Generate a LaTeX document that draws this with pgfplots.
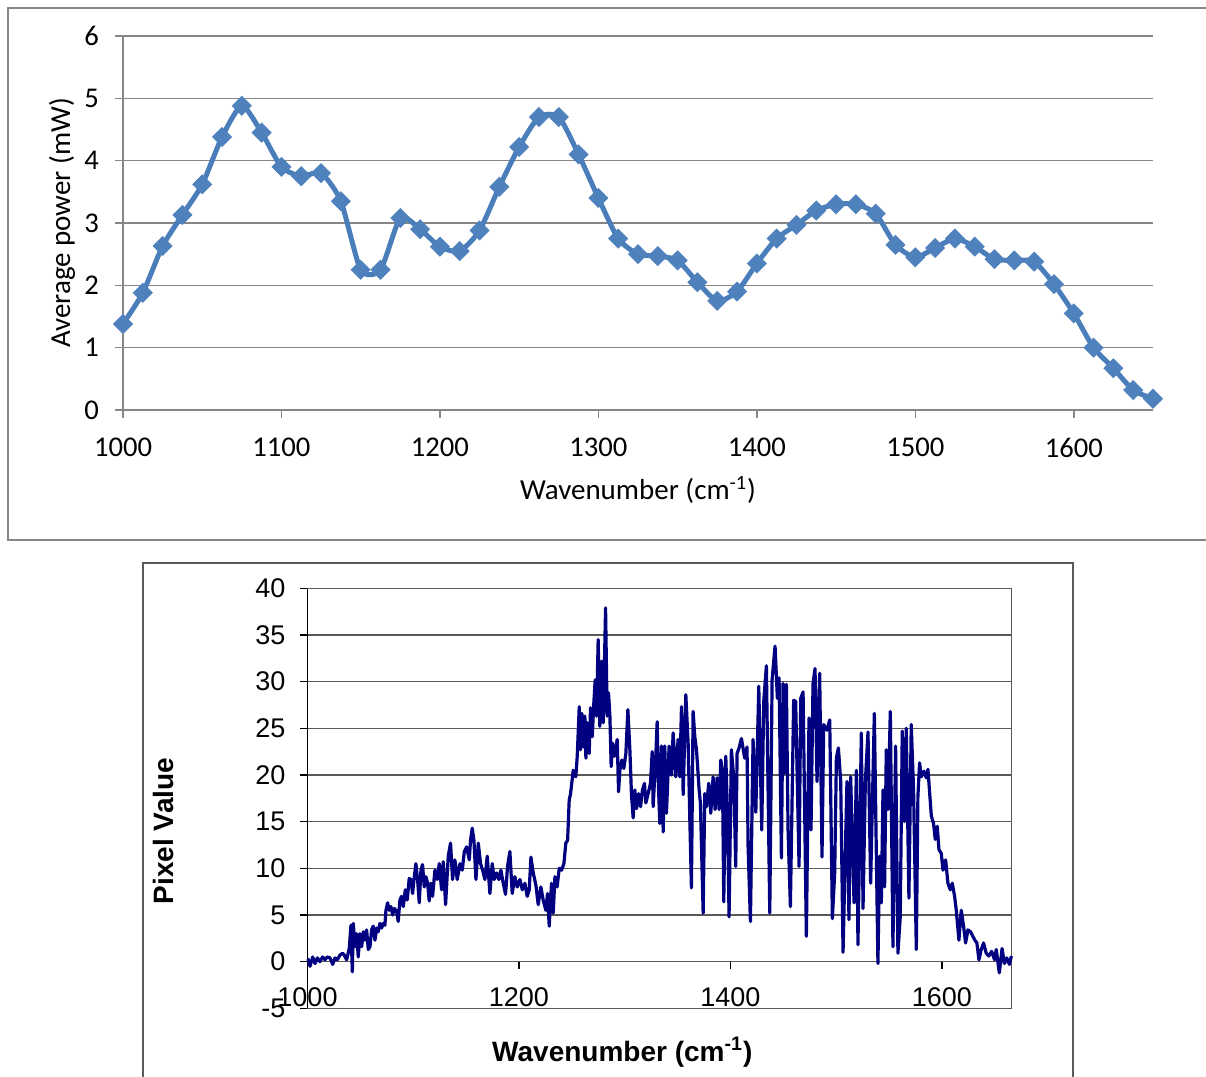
\documentclass[border=0pt]{standalone}
\usepackage{pgfplots}
\pgfplotsset{compat=1.18}
\usepackage{fontspec}
\setmainfont{Carlito}
\newfontfamily\carlito{Carlito}
\newfontfamily\arialf{Liberation Sans}
\definecolor{topblue}{HTML}{4A7EBB}
\definecolor{markblue}{HTML}{4F81BD}
\definecolor{navyline}{HTML}{000080}
\definecolor{gridg}{HTML}{868686}
\definecolor{gridb}{HTML}{5A5A5A}

\pgfplotstableread{
x y
1000 1.38
1012.5 1.88
1025 2.63
1037.5 3.13
1050 3.62
1062.5 4.38
1075 4.88
1087.5 4.45
1100 3.90
1112.5 3.75
1125 3.80
1137.5 3.35
1150 2.25
1162.5 2.25
1175 3.08
1187.5 2.90
1200 2.62
1212.5 2.55
1225 2.88
1237.5 3.58
1250 4.22
1262.5 4.70
1275 4.70
1287.5 4.10
1300 3.40
1312.5 2.75
1325 2.50
1337.5 2.47
1350 2.40
1362.5 2.05
1375 1.75
1387.5 1.90
1400 2.35
1412.5 2.75
1425 2.97
1437.5 3.20
1450 3.30
1462.5 3.30
1475 3.15
1487.5 2.65
1500 2.45
1512.5 2.60
1525 2.75
1537.5 2.62
1550 2.42
1562.5 2.40
1575 2.38
1587.5 2.02
1600 1.55
1612.5 1.00
1625 0.67
1637.5 0.32
1650 0.18
}\powertable

\pgfplotstableread{
x y
1000.0 0.3
1000.8 0.2
1002.4 -0.5
1004.9 0.5
1007.1 -0.2
1009.3 0.4
1011.8 0.0
1014.3 0.5
1016.5 0.2
1018.7 0.5
1021.3 0.4
1023.8 -0.3
1026.0 0.4
1028.2 0.2
1030.7 0.7
1033.2 0.9
1034.8 0.7
1037.0 0.2
1039.5 1.4
1041.1 3.9
1042.4 -1.1
1043.3 4.1
1044.9 1.6
1046.5 3.0
1048.0 0.5
1049.6 3.0
1051.2 1.6
1052.8 3.2
1054.3 2.3
1055.9 3.4
1057.5 1.3
1059.1 1.6
1060.6 3.4
1062.2 3.8
1063.8 2.3
1065.4 3.6
1066.9 3.2
1068.5 4.1
1070.1 3.6
1071.7 4.1
1073.2 3.9
1074.2 5.5
1075.8 6.3
1077.3 5.5
1078.9 5.9
1080.5 5.0
1082.1 5.7
1084.3 5.4
1085.8 4.3
1087.4 6.6
1088.9 7.0
1090.6 5.9
1092.5 7.7
1094.3 6.6
1096.2 8.9
1097.8 8.8
1099.4 7.3
1101.0 9.1
1102.5 10.5
1104.1 8.8
1105.7 6.3
1107.3 9.8
1108.8 10.4
1110.4 8.0
1112.0 9.1
1113.6 8.4
1115.1 6.5
1116.7 8.4
1118.3 7.0
1120.5 9.8
1122.7 8.8
1124.6 10.5
1126.8 7.7
1128.4 10.7
1130.6 6.1
1133.1 11.3
1135.3 12.7
1137.2 8.8
1139.4 10.9
1141.6 8.8
1144.2 10.5
1146.4 9.8
1148.3 11.8
1150.5 12.3
1153.0 10.9
1154.2 13.0
1155.8 14.3
1157.4 13.0
1159.3 8.8
1161.5 12.7
1163.7 10.5
1165.6 9.8
1167.8 8.8
1170.0 11.3
1172.5 7.3
1174.7 10.5
1176.6 8.8
1178.8 9.5
1181.0 8.8
1182.9 9.8
1185.1 8.4
1187.3 7.2
1189.2 10.2
1191.4 11.8
1193.6 7.3
1196.1 9.1
1198.3 8.0
1200.9 8.8
1203.1 7.7
1205.6 8.4
1207.8 7.0
1209.7 7.7
1211.3 11.2
1213.5 9.5
1216.0 8.2
1218.2 6.1
1220.7 8.0
1222.9 6.6
1225.4 5.5
1227.0 7.3
1228.6 3.8
1230.8 8.4
1232.4 5.2
1234.0 9.1
1236.1 8.0
1238.1 10.0
1240.3 9.8
1242.5 10.5
1244.3 12.7
1246.0 13.0
1247.5 17.3
1248.8 18.0
1251.3 20.5
1253.8 19.8
1255.1 22.0
1257.0 27.3
1258.2 22.7
1259.5 26.6
1260.8 23.0
1262.3 26.3
1263.3 21.8
1264.5 25.6
1266.4 22.3
1267.7 27.2
1269.3 24.1
1270.8 27.7
1272.1 30.2
1273.4 26.3
1274.9 34.5
1276.5 25.2
1278.1 32.2
1279.7 25.6
1281.9 37.9
1283.4 26.3
1284.7 28.8
1286.0 26.3
1287.2 20.9
1288.5 23.4
1290.4 22.0
1292.9 23.8
1294.2 18.2
1295.4 20.5
1297.3 21.6
1299.2 20.7
1301.1 22.3
1303.0 27.0
1304.9 22.7
1306.4 17.9
1308.0 15.4
1309.6 18.4
1311.2 16.4
1313.1 18.0
1315.0 16.6
1316.8 18.4
1318.7 19.1
1320.0 17.0
1322.2 18.0
1324.4 19.1
1326.0 22.5
1326.9 16.6
1329.4 22.0
1330.7 25.7
1331.9 18.8
1333.2 14.8
1334.8 23.1
1336.4 13.9
1337.9 23.1
1339.5 15.9
1342.0 23.1
1344.2 20.0
1345.8 24.5
1348.3 19.8
1350.5 23.8
1352.1 19.8
1353.7 27.3
1355.3 17.9
1357.8 28.6
1360.0 23.4
1361.6 15.2
1363.1 7.9
1364.7 26.8
1366.3 24.1
1367.9 22.7
1370.4 18.4
1371.6 17.0
1374.2 5.2
1375.7 18.0
1377.3 16.6
1379.5 19.1
1381.4 15.9
1383.6 19.8
1385.5 16.3
1387.4 19.7
1389.3 16.3
1390.9 21.6
1392.4 20.6
1393.7 6.4
1395.6 22.0
1397.2 15.9
1398.7 4.8
1400.9 22.7
1403.1 19.8
1405.0 10.2
1406.3 22.3
1408.2 22.9
1410.4 23.9
1413.5 21.8
1415.7 23.0
1416.7 12.3
1418.9 4.3
1421.4 23.8
1424.0 16.0
1426.8 29.5
1429.6 14.1
1431.5 27.9
1434.0 31.7
1437.2 5.2
1439.4 30.2
1442.2 33.8
1444.4 28.2
1446.0 30.4
1448.2 11.1
1449.8 29.8
1451.3 20.2
1452.9 29.7
1454.5 14.1
1456.7 5.9
1459.8 28.0
1461.7 27.9
1464.9 10.2
1466.5 28.2
1468.7 28.9
1471.8 2.7
1474.3 26.1
1476.2 14.1
1478.1 29.8
1480.0 31.4
1481.9 19.3
1484.4 30.9
1486.6 11.2
1488.2 25.4
1491.3 24.8
1493.9 25.9
1496.4 4.6
1498.6 9.5
1500.2 21.8
1502.1 22.9
1504.3 19.3
1506.5 1.0
1510.2 19.3
1512.1 4.5
1513.7 19.8
1516.9 6.3
1519.1 20.5
1520.6 1.8
1523.8 24.5
1525.4 5.7
1527.6 19.3
1530.1 24.6
1532.6 8.4
1536.1 26.6
1537.9 12.3
1539.5 -0.2
1541.1 11.3
1542.7 6.3
1544.3 18.4
1545.8 8.0
1547.4 22.7
1549.0 16.3
1551.2 26.8
1553.7 1.6
1556.2 23.1
1558.4 0.9
1560.6 4.8
1562.5 24.7
1564.4 15.0
1566.3 25.0
1568.8 6.8
1571.0 25.4
1573.2 18.4
1575.8 1.3
1577.3 17.7
1578.9 21.3
1580.5 19.8
1583.0 20.4
1585.2 19.7
1586.8 20.6
1588.4 18.1
1590.0 15.6
1592.1 14.8
1593.7 13.1
1595.6 14.5
1597.2 12.0
1599.4 11.6
1601.0 9.8
1603.5 10.9
1605.7 8.4
1607.9 7.7
1609.8 8.4
1612.0 7.0
1613.6 5.5
1616.1 2.3
1618.3 5.5
1620.5 3.8
1622.4 2.0
1624.6 3.4
1627.1 3.2
1629.3 2.7
1631.2 2.3
1633.1 2.0
1635.0 0.2
1637.2 1.3
1639.4 2.0
1641.9 0.9
1644.4 0.6
1647.0 1.1
1649.8 0.2
1651.4 1.3
1654.3 -1.2
1656.9 1.4
1659.1 -0.2
1661.3 0.4
1663.9 -0.3
1665.7 0.6
}\pixeltable

\begin{document}
\begin{tikzpicture}
\useasboundingbox (0,0) rectangle (603pt,538.5pt);
\draw[gridg, line width=0.8pt] (4pt,268.5pt) rectangle (615pt,534.5pt);
\draw[gridb, line width=0.6pt] (71.5pt,-10pt) rectangle (536.5pt,257pt);

\begin{axis}[
  at={(61.5pt,333.5pt)}, anchor=south west,
  scale only axis, width=515pt, height=187pt,
  xmin=1000, xmax=1650, ymin=0, ymax=6,
  xtick={1000,1100,...,1600}, ytick={0,1,...,6},
  axis x line*=bottom, axis y line*=left,
  axis line style={gridg, line width=0.8pt, -},
  tick style={gridg, line width=0.8pt},
  tick align=outside, major tick length=4pt,
  ymajorgrids, grid style={gridg, line width=0.8pt},
  /pgf/number format/assume math mode=true,
  /pgf/number format/1000 sep={},
  tick label style={font=\carlito\fontsize{14.3}{16}\selectfont},
  xticklabel style={yshift=-6.5pt},
  yticklabel style={xshift=-4.5pt},
  xlabel={Wavenumber (cm\textsuperscript{-1})},
  ylabel={Average power (mW)},
  label style={font=\carlito\fontsize{14.5}{17}\selectfont},
  x label style={at={(axis description cs:0.5,-0.214)}, anchor=center},
  y label style={at={(axis description cs:-0.0592,0.5)}, anchor=center},
  clip=false]
\addplot[color=topblue, line width=2.5pt, smooth, tension=0.4,
  mark=square*, mark size=3.3pt,
  mark options={rotate=45, fill=markblue, draw=markblue, line width=0.5pt, solid}]
  table[x=x, y=y] {\powertable};
\end{axis}

\begin{axis}[
  at={(153.75pt,34.35pt)}, anchor=south west,
  scale only axis, width=352.1pt, height=210pt,
  xmin=1000, xmax=1666, ymin=-5, ymax=40,
  xtick={1000,1200,1400,1600}, ytick={-5,0,5,...,40},
  axis x line=middle, axis y line=left,
  hide obscured x ticks=false, hide obscured y ticks=false,
  axis line style={-},
  x axis line style={gridb, line width=0.6pt},
  y axis line style={black, line width=0.7pt},
  tick style={black, line width=0.6pt},
  tick align=outside, major tick length=3.5pt,
  ymajorgrids, grid style={gridb, line width=0.6pt},
  /pgf/number format/assume math mode=true,
  /pgf/number format/1000 sep={},
  tick label style={font=\arialf\fontsize{13.5}{16}\selectfont},
  xticklabel style={yshift=-6pt, anchor=north},
  yticklabel style={xshift=-4pt, anchor=east},
  xlabel={Wavenumber (cm\textsuperscript{-1})},
  ylabel={Pixel Value},
  label style={font=\arialf\bfseries\fontsize{14}{17}\selectfont},
  x label style={at={(axis description cs:0.447,-0.104)}, anchor=center},
  y label style={at={(axis description cs:-0.204,0.422)}, anchor=center, rotate=0},
  clip=false]
\draw[gridb, line width=0.6pt] (rel axis cs:0,0) -- (rel axis cs:1,0) -- (rel axis cs:1,1) -- (rel axis cs:0,1);
\addplot[color=navyline, line width=1.6pt, line join=round, no marks]
  table[x=x, y=y] {\pixeltable};
\end{axis}
\end{tikzpicture}
\end{document}
